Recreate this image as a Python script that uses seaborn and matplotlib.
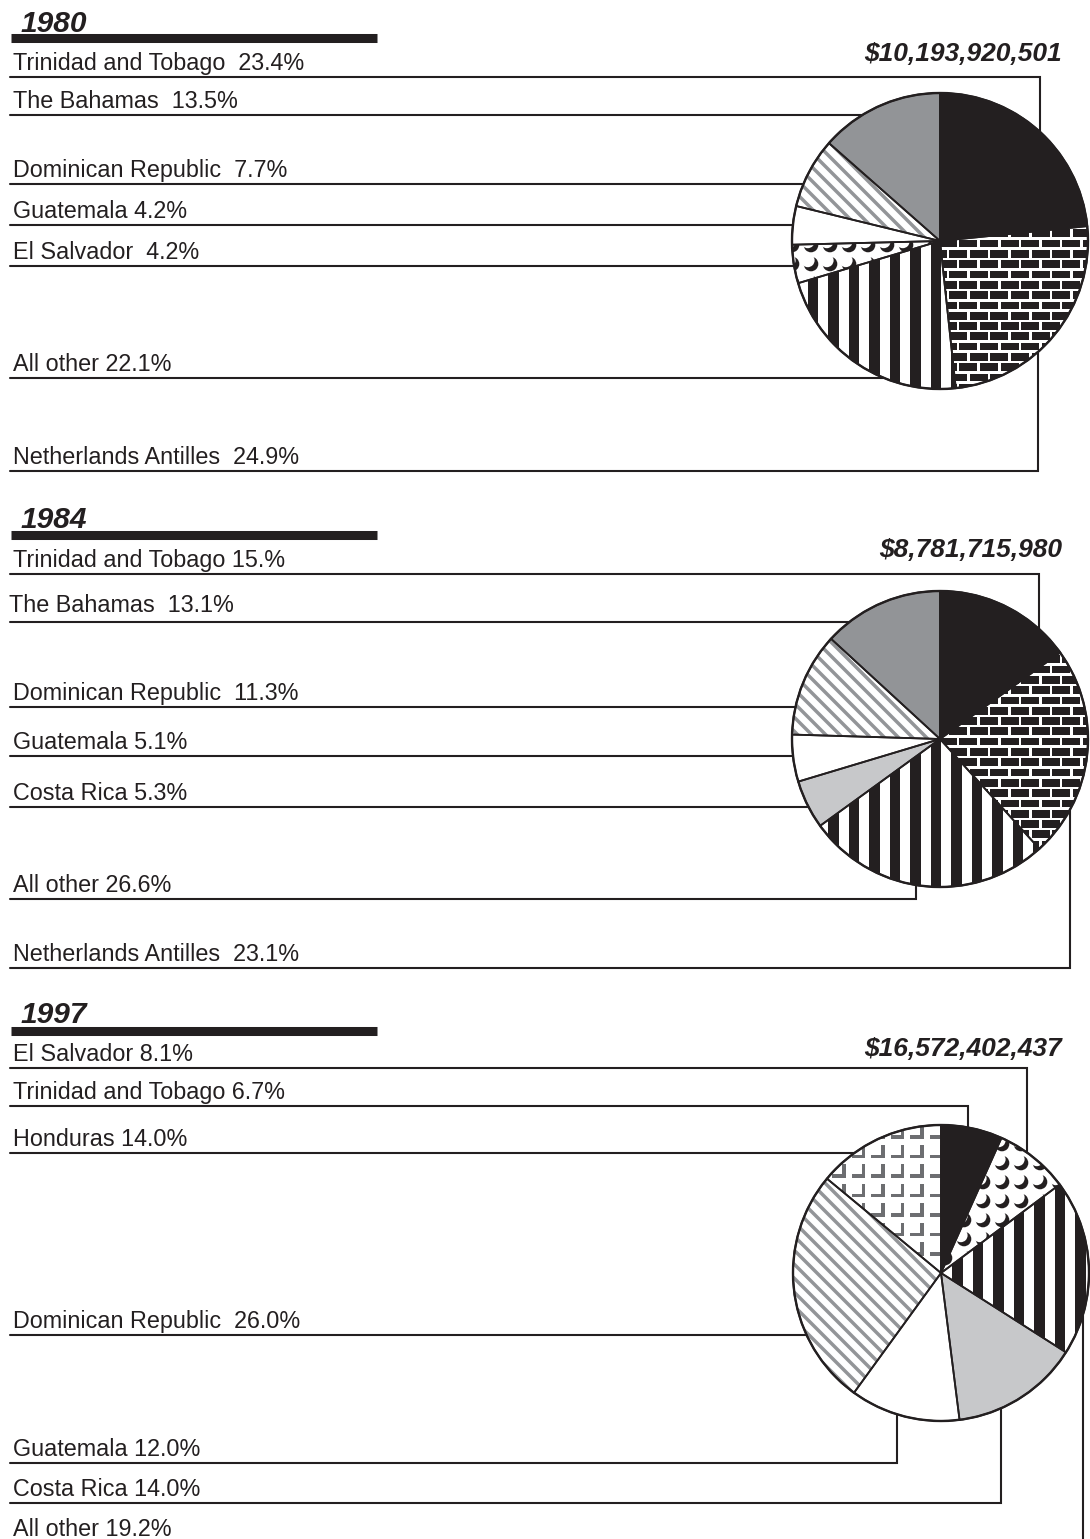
import numpy as np
import matplotlib
matplotlib.use('Agg')
import matplotlib.pyplot as plt
import seaborn as sns
from matplotlib.patches import Rectangle, Circle
from matplotlib.collections import PatchCollection, LineCollection

sns.set_style('white')
plt.rcParams['font.family'] = ['Liberation Sans', 'DejaVu Sans']

# ---------------- data ----------------
years = ['1980', '1984', '1997']
totals = ['$10,193,920,501', '$8,781,715,980', '$16,572,402,437']

# pie slices, clockwise from 12 o'clock
slices_1980 = ['Trinidad and Tobago', 'Netherlands Antilles', 'All other', 'El Salvador',
               'Guatemala', 'Dominican Republic', 'The Bahamas']
shares_1980 = [23.4, 24.9, 22.1, 4.2, 4.2, 7.7, 13.5]

slices_1984 = ['Trinidad and Tobago', 'Netherlands Antilles', 'All other', 'Costa Rica',
               'Guatemala', 'Dominican Republic', 'The Bahamas']
shares_1984 = [15.0, 23.1, 26.6, 5.3, 5.1, 11.3, 13.1]

slices_1997 = ['Trinidad and Tobago', 'El Salvador', 'All other', 'Costa Rica',
               'Guatemala', 'Dominican Republic', 'Honduras']
shares_1997 = [6.7, 8.1, 19.2, 14.0, 12.0, 26.0, 14.0]

# left hand labels, top to bottom, as printed
labels_1980 = ['Trinidad and Tobago  23.4%', 'The Bahamas  13.5%', 'Dominican Republic  7.7%',
               'Guatemala 4.2%', 'El Salvador  4.2%', 'All other 22.1%',
               'Netherlands Antilles  24.9%']
labels_1984 = ['Trinidad and Tobago 15.%', 'The Bahamas  13.1%', 'Dominican Republic  11.3%',
               'Guatemala 5.1%', 'Costa Rica 5.3%', 'All other 26.6%',
               'Netherlands Antilles  23.1%']
labels_1997 = ['El Salvador 8.1%', 'Trinidad and Tobago 6.7%', 'Honduras 14.0%',
               'Dominican Republic  26.0%', 'Guatemala 12.0%', 'Costa Rica 14.0%',
               'All other 19.2%']

# ---------------- layout / style ----------------
INK = '#231f20'
fill_of = {'Trinidad and Tobago': 'black', 'Netherlands Antilles': 'brick', 'All other': 'vstripe',
           'El Salvador': 'crescent', 'Guatemala': 'white', 'Dominican Republic': 'diag',
           'The Bahamas': 'gray', 'Costa Rica': 'lightgray', 'Honduras': 'corner'}
base_color = {'black': INK, 'brick': INK, 'gray': '#929497', 'lightgray': '#c7c8ca'}

R = 148
centers = [(940, 241), (940, 739), (941, 1273)]
# (underline y, x of the elbow or None when the line just runs into the pie)
leaders = [
    [(77, 1040), (115, None), (184, None), (225, None), (266, None), (378, None), (471, 1038)],
    [(574, 1039), (622, None), (707, None), (756, None), (807, None), (899, 916), (968, 1070)],
    [(1068, 1027), (1106, 968), (1153, None), (1335, None), (1463, 897), (1503, 1001), (1543, 1083)],
]
bar_y = [38, 535, 1031]
year_base = [32, 528, 1023]
total_base = [61, 557, 1056]
label_shift = {(1, 1): (-4, -3)}


def add_clipped(ax, coll, wedge):
    ax.add_collection(coll, autolim=False)
    coll.set_clip_path(wedge)


def draw_pattern(ax, wedge, kind, cx, cy):
    x0, y0 = cx - R, cy - R
    if kind == 'vstripe':
        rects = [Rectangle((x, y0), 10.5, 2 * R) for x in np.arange(x0 - 5, cx + R, 20.5)]
        add_clipped(ax, PatchCollection(rects, facecolor=INK, edgecolor='none', zorder=3), wedge)
    elif kind == 'brick':
        rects = []
        for k, y in enumerate(np.arange(y0, cy + R, 10.3)):
            rects.append(Rectangle((x0, y), 2 * R, 2.6))
            for x in np.arange(x0 - 20.6 + (k % 2) * 10.3, cx + R, 20.6):
                rects.append(Rectangle((x, y), 2.6, 10.3))
        add_clipped(ax, PatchCollection(rects, facecolor='white', edgecolor='none', zorder=3), wedge)
    elif kind == 'diag':
        segs = [[(x0, y0 + o), (cx + R, cy + R + o)] for o in np.arange(-2 * R, 2 * R, 14)]
        add_clipped(ax, LineCollection(segs, colors='#939598', linewidths=2.5, zorder=3), wedge)
    elif kind == 'crescent':
        pts = [(gx, gy) for gx in np.arange(x0, cx + R + 19, 19) for gy in np.arange(y0, cy + R + 19, 19)]
        dark = [Circle(p, 7.3) for p in pts]
        light = [Circle((p[0] - 3.2, p[1] - 3.6), 6.8) for p in pts]
        add_clipped(ax, PatchCollection(dark, facecolor=INK, edgecolor='none', zorder=3), wedge)
        add_clipped(ax, PatchCollection(light, facecolor='white', edgecolor='none', zorder=3.5), wedge)
    elif kind == 'corner':
        rects = []
        for gx in np.arange(x0, cx + R, 19.5):
            for gy in np.arange(y0, cy + R, 19.5):
                rects.append(Rectangle((gx + 10, gy), 3.5, 13.5))
                rects.append(Rectangle((gx, gy + 10), 13.5, 3.5))
        add_clipped(ax, PatchCollection(rects, facecolor='#6d6e71', edgecolor='none', zorder=3), wedge)


fig = plt.figure(figsize=(10.9, 15.39), dpi=100)
ax = fig.add_axes([0, 0, 1, 1])

panels = [(slices_1980, shares_1980, labels_1980),
          (slices_1984, shares_1984, labels_1984),
          (slices_1997, shares_1997, labels_1997)]

for i, (names, shares, labels) in enumerate(panels):
    cx, cy = centers[i]
    kinds = [fill_of[n] for n in names]

    wedges, _ = ax.pie(shares, colors=[base_color.get(k, 'white') for k in kinds],
                       startangle=-90, counterclock=True, center=(cx, cy), radius=R,
                       wedgeprops=dict(linewidth=0, edgecolor='none', zorder=2))
    for w, k in zip(wedges, kinds):
        draw_pattern(ax, w, k, cx, cy)
    # wedge borders on top of the patterns
    ax.pie(shares, startangle=-90, counterclock=True, center=(cx, cy), radius=R,
           wedgeprops=dict(fill=False, edgecolor=INK, linewidth=1.3, zorder=5))
    ax.add_patch(Circle((cx, cy), R, fill=False, edgecolor=INK, linewidth=1.7, zorder=6))

    # year heading and bar
    ax.text(21, year_base[i], years[i], fontsize=21.5, fontweight='bold', fontstyle='italic',
            color=INK, va='baseline', ha='left')
    ax.plot([11, 377], [bar_y[i], bar_y[i]], color=INK, linewidth=6.5, solid_capstyle='butt')
    ax.text(1062, total_base[i], totals[i], fontsize=19, fontweight='bold', fontstyle='italic',
            color=INK, va='baseline', ha='right')

    # labels with leader lines
    for j, (lab, (ly, ex)) in enumerate(zip(labels, leaders[i])):
        dx, dy = label_shift.get((i, j), (0, 0))
        ax.text(13 + dx, ly - 7 + dy, lab, fontsize=16.8, color=INK, va='baseline', ha='left')
        if ex is None:
            xe = cx - np.sqrt(R ** 2 - (ly - cy) ** 2)
            ax.plot([10, xe], [ly, ly], color=INK, linewidth=1.5, zorder=1)
        else:
            d = np.sqrt(R ** 2 - (ex - cx) ** 2)
            ye = cy - d if ly < cy else cy + d
            ax.plot([10, ex, ex], [ly, ly, ye], color=INK, linewidth=1.5,
                    solid_joinstyle='miter', zorder=1)

ax.set_xlim(0, 1090)
ax.set_ylim(1539, 0)
ax.set_aspect('auto')
ax.axis('off')

fig.savefig('out.png', dpi=100)
